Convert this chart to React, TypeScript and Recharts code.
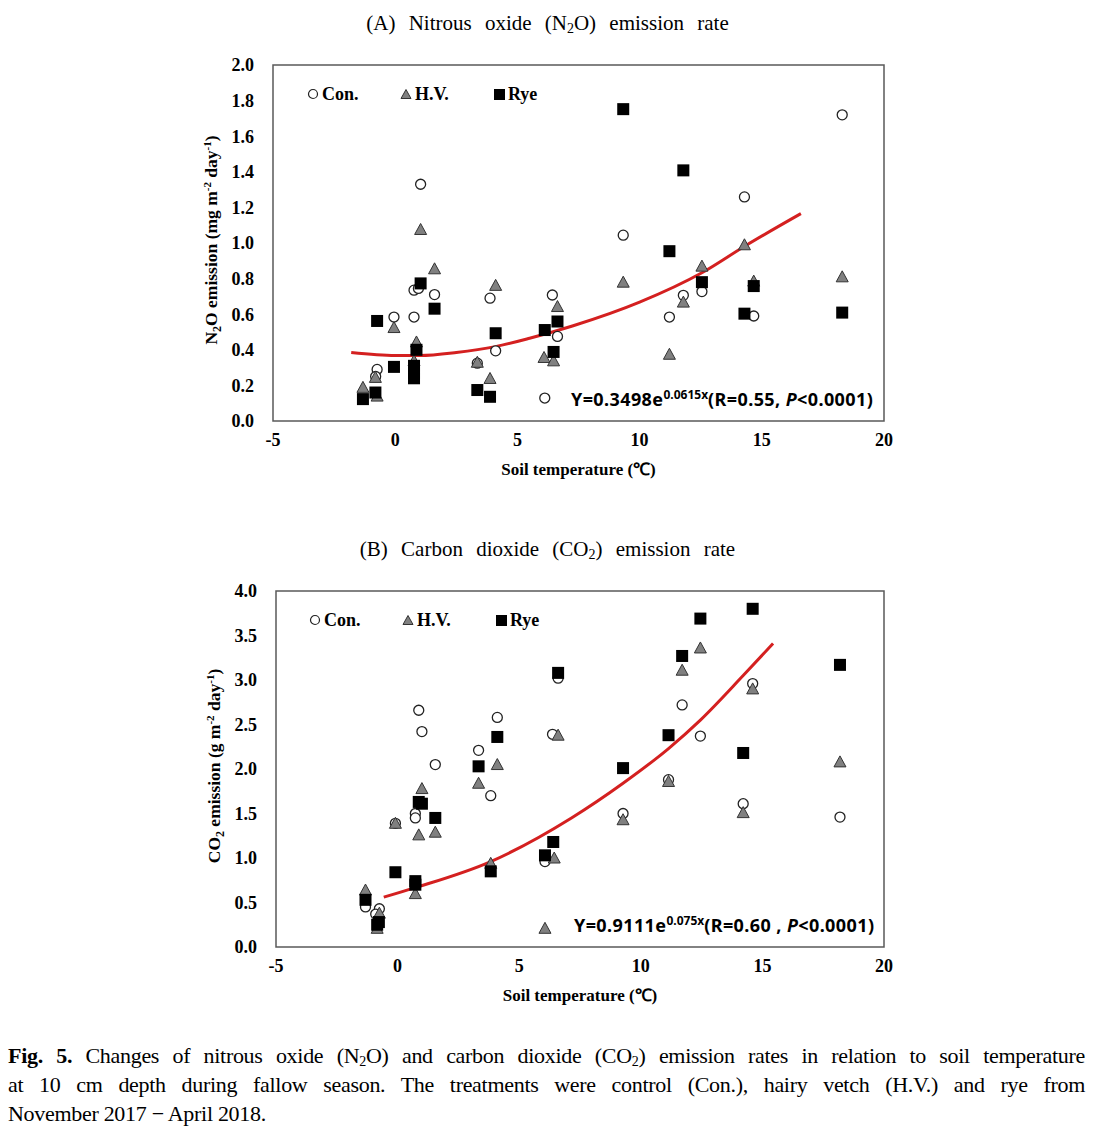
import React from 'react';
import { ComposedChart, Scatter, Line, XAxis, YAxis, ReferenceArea, Label, Legend } from 'recharts';

// ---------- data ----------
const xTicks = [-5, 0, 5, 10, 15, 20];
const n2oTicks = [0, 0.2, 0.4, 0.6, 0.8, 1.0, 1.2, 1.4, 1.6, 1.8, 2.0];
const co2Ticks = [0, 0.5, 1.0, 1.5, 2.0, 2.5, 3.0, 3.5, 4.0];

const n2oCon = [
  { x: 1.04, y: 1.33 }, { x: 0.77, y: 0.735 }, { x: 0.95, y: 0.745 }, { x: 1.61, y: 0.71 },
  { x: -0.05, y: 0.584 }, { x: 0.77, y: 0.584 }, { x: -0.74, y: 0.29 }, { x: -0.8, y: 0.25 },
  { x: 3.88, y: 0.69 }, { x: 3.36, y: 0.325 }, { x: 4.11, y: 0.394 }, { x: 6.43, y: 0.708 },
  { x: 6.64, y: 0.475 }, { x: 6.12, y: 0.129 }, { x: 9.33, y: 1.044 }, { x: 14.29, y: 1.259 },
  { x: 18.29, y: 1.72 }, { x: 11.22, y: 0.584 }, { x: 11.79, y: 0.706 }, { x: 12.55, y: 0.727 },
  { x: 14.67, y: 0.59 },
];
const n2oHV = [
  { x: 1.04, y: 1.076 }, { x: 1.61, y: 0.855 }, { x: -0.05, y: 0.525 }, { x: 0.87, y: 0.444 },
  { x: 0.77, y: 0.338 }, { x: -1.32, y: 0.189 }, { x: -0.81, y: 0.245 }, { x: -0.74, y: 0.14 },
  { x: 4.11, y: 0.762 }, { x: 3.36, y: 0.33 }, { x: 3.88, y: 0.239 }, { x: 6.64, y: 0.643 },
  { x: 6.09, y: 0.357 }, { x: 6.48, y: 0.338 }, { x: 9.33, y: 0.78 }, { x: 11.22, y: 0.375 },
  { x: 11.79, y: 0.668 }, { x: 12.55, y: 0.87 }, { x: 14.29, y: 0.99 }, { x: 14.67, y: 0.786 },
  { x: 18.29, y: 0.81 },
];
const n2oRye = [
  { x: -0.74, y: 0.562 }, { x: -0.05, y: 0.304 }, { x: 1.04, y: 0.773 }, { x: 1.61, y: 0.631 },
  { x: 0.87, y: 0.4 }, { x: 0.77, y: 0.31 }, { x: 0.77, y: 0.27 }, { x: 0.77, y: 0.24 },
  { x: -1.32, y: 0.123 }, { x: -0.81, y: 0.16 }, { x: 3.36, y: 0.174 }, { x: 3.88, y: 0.136 },
  { x: 4.11, y: 0.493 }, { x: 6.12, y: 0.511 }, { x: 6.64, y: 0.559 }, { x: 6.48, y: 0.388 },
  { x: 9.33, y: 1.752 }, { x: 11.79, y: 1.408 }, { x: 11.22, y: 0.954 }, { x: 12.55, y: 0.78 },
  { x: 14.29, y: 0.603 }, { x: 14.67, y: 0.758 }, { x: 18.29, y: 0.609 },
];
const n2oTrend = [
  { x: -1.8, y: 0.385 }, { x: 0, y: 0.368 }, { x: 1, y: 0.368 }, { x: 2.5, y: 0.385 },
  { x: 4.1, y: 0.418 }, { x: 5.5, y: 0.465 }, { x: 7.25, y: 0.534 }, { x: 10, y: 0.668 },
  { x: 12.55, y: 0.833 }, { x: 14.3, y: 0.982 }, { x: 16.6, y: 1.165 },
];

const co2Con = [
  { x: 0.87, y: 2.66 }, { x: 1.0, y: 2.42 }, { x: 1.55, y: 2.05 }, { x: 0.73, y: 1.5 },
  { x: 0.73, y: 1.45 }, { x: -0.09, y: 1.39 }, { x: 3.33, y: 2.21 }, { x: 4.1, y: 2.58 },
  { x: 3.83, y: 1.7 }, { x: 6.37, y: 2.39 }, { x: 6.6, y: 3.02 }, { x: 6.06, y: 0.96 },
  { x: -1.32, y: 0.45 }, { x: -0.75, y: 0.43 }, { x: -0.9, y: 0.37 }, { x: 9.27, y: 1.5 },
  { x: 11.14, y: 1.88 }, { x: 11.7, y: 2.72 }, { x: 12.45, y: 2.37 }, { x: 14.21, y: 1.61 },
  { x: 14.6, y: 2.96 }, { x: 18.19, y: 1.46 },
];
const co2HV = [
  { x: 1.0, y: 1.78 }, { x: 0.87, y: 1.26 }, { x: 1.55, y: 1.29 }, { x: -0.09, y: 1.39 },
  { x: 0.73, y: 0.6 }, { x: 3.33, y: 1.84 }, { x: 4.1, y: 2.05 }, { x: 3.83, y: 0.94 },
  { x: 6.6, y: 2.38 }, { x: 6.44, y: 1.0 }, { x: 6.06, y: 0.21 }, { x: -1.32, y: 0.64 },
  { x: -0.75, y: 0.38 }, { x: -0.84, y: 0.21 }, { x: 9.27, y: 1.43 }, { x: 11.14, y: 1.86 },
  { x: 11.7, y: 3.11 }, { x: 12.45, y: 3.36 }, { x: 14.21, y: 1.51 }, { x: 14.6, y: 2.9 },
  { x: 18.19, y: 2.08 },
];
const co2Rye = [
  { x: 0.87, y: 1.63 }, { x: 1.0, y: 1.61 }, { x: 1.55, y: 1.45 }, { x: -0.09, y: 0.84 },
  { x: 0.73, y: 0.74 }, { x: 0.73, y: 0.7 }, { x: 3.33, y: 2.03 }, { x: 4.1, y: 2.36 },
  { x: 3.83, y: 0.85 }, { x: 6.6, y: 3.08 }, { x: 6.4, y: 1.18 }, { x: 6.06, y: 1.03 },
  { x: -1.32, y: 0.53 }, { x: -0.77, y: 0.28 }, { x: -0.84, y: 0.25 }, { x: 9.27, y: 2.01 },
  { x: 11.14, y: 2.38 }, { x: 11.7, y: 3.27 }, { x: 12.45, y: 3.69 }, { x: 14.21, y: 2.18 },
  { x: 14.6, y: 3.8 }, { x: 18.19, y: 3.17 },
];
const co2Trend = [
  { x: -0.57, y: 0.56 }, { x: 0.73, y: 0.667 }, { x: 3.83, y: 0.96 }, { x: 7.15, y: 1.45 },
  { x: 9.27, y: 1.84 }, { x: 11.14, y: 2.23 }, { x: 12.45, y: 2.55 }, { x: 14.21, y: 3.05 },
  { x: 15.44, y: 3.41 },
];

const seriesNames = ['Con.', 'H.V.', 'Rye'];

// ---------- styles ----------
const SERIF = '"Liberation Serif", "Times New Roman", serif';
const SANS = '"Noto Sans", "DejaVu Sans", sans-serif';
const tickStyle = { fontFamily: SERIF, fontWeight: 700, fontSize: 18, fill: '#000' };

const CircleShape = (p: any) => (
  <circle cx={p.cx} cy={p.cy} r={5} fill="#fff" stroke="#222" strokeWidth={1.3} />
);
const TriShape = (p: any) => (
  <polygon
    points={`${p.cx},${p.cy - 6} ${p.cx + 6},${p.cy + 5} ${p.cx - 6},${p.cy + 5}`}
    fill="#808080"
    stroke="#333"
    strokeWidth={1}
  />
);
const SquareShape = (p: any) => <rect x={p.cx - 6} y={p.cy - 6} width={12} height={12} fill="#000" />;

const legendIcon = (name: string) => {
  if (name === 'Con.')
    return (
      <svg width={12} height={12}>
        <circle cx={6} cy={6} r={4.5} fill="#fff" stroke="#222" strokeWidth={1.2} />
      </svg>
    );
  if (name === 'H.V.')
    return (
      <svg width={12} height={12}>
        <polygon points="6,1.5 11,10.5 1,10.5" fill="#808080" stroke="#333" strokeWidth={1} />
      </svg>
    );
  return (
    <svg width={12} height={12}>
      <rect x={1} y={1} width={11} height={11} fill="#000" />
    </svg>
  );
};

const LegendContent = () => (
  <div style={{ position: 'relative', width: 260, height: 20 }}>
    {seriesNames.map((n, i) => (
      <div
        key={n}
        style={{
          position: 'absolute',
          left: [0, 93, 186][i],
          top: 0,
          height: 20,
          display: 'flex',
          alignItems: 'center',
          fontFamily: SERIF,
          fontWeight: 700,
          fontSize: 18,
          color: '#000',
        }}
      >
        {legendIcon(n)}
        <span style={{ marginLeft: 3 }}>{n}</span>
      </div>
    ))}
  </div>
);

const XTitle = (props: any) => {
  const vb = props.viewBox || {};
  return (
    <text
      x={vb.x + vb.width / 2}
      y={vb.y + 54}
      textAnchor="middle"
      style={{ fontFamily: SERIF, fontWeight: 700, fontSize: 17, fill: '#000' }}
    >
      Soil temperature (℃)
    </text>
  );
};

const makeYTitle = (kind: 'n2o' | 'co2') => (props: any) => {
  const vb = props.viewBox || {};
  const cx = vb.x + vb.width - 62;
  const cy = vb.y + vb.height / 2 - 3;
  const st = { fontFamily: SERIF, fontWeight: 700, fontSize: 17.5, fill: '#000' };
  return (
    <text x={cx} y={cy} dy={6} textAnchor="middle" transform={`rotate(-90 ${cx} ${cy})`} style={st}>
      {kind === 'n2o' ? (
        <>
          <tspan>N</tspan>
          <tspan dy={4} fontSize={12}>2</tspan>
          <tspan dy={-4}>O emission (mg m</tspan>
          <tspan dy={-6} fontSize={11}>-2</tspan>
          <tspan dy={6}> day</tspan>
          <tspan dy={-6} fontSize={11}>-1</tspan>
          <tspan dy={6}>)</tspan>
        </>
      ) : (
        <>
          <tspan>CO</tspan>
          <tspan dy={4} fontSize={12}>2</tspan>
          <tspan dy={-4}> emission (g m</tspan>
          <tspan dy={-6} fontSize={11}>-2</tspan>
          <tspan dy={6}> day</tspan>
          <tspan dy={-6} fontSize={11}>-1</tspan>
          <tspan dy={6}>)</tspan>
        </>
      )}
    </text>
  );
};

type PanelProps = {
  top: number;
  left: number;
  yMax: number;
  yTicks: number[];
  con: any[];
  hv: any[];
  rye: any[];
  trend: any[];
  kind: 'n2o' | 'co2';
  legendLeft: number;
};

const Panel = ({ top, left, yMax, yTicks, con, hv, rye, trend, kind, legendLeft }: PanelProps) => (
  <div style={{ position: 'absolute', left: 0, top, width: 1095, height: 500 }}>
    <ComposedChart width={1095} height={500} margin={{ top: 65, right: 211, bottom: 49, left: left - 60 }}>
      <XAxis
        type="number"
        dataKey="x"
        domain={[-5, 20]}
        ticks={xTicks}
        allowDataOverflow
        axisLine={false}
        tickLine={false}
        tickSize={6}
        tickMargin={6}
        height={30}
        tick={tickStyle}
      >
        <Label content={XTitle} />
      </XAxis>
      <YAxis
        type="number"
        dataKey="y"
        domain={[0, yMax]}
        ticks={yTicks}
        allowDataOverflow
        axisLine={false}
        tickLine={false}
        tickSize={6}
        tickMargin={13}
        width={60}
        tick={tickStyle}
        tickFormatter={(v: number) => v.toFixed(1)}
      >
        <Label content={makeYTitle(kind)} />
      </YAxis>
      <ReferenceArea x1={-5} x2={20} y1={0} y2={yMax} fill="none" stroke="#5a5a5a" strokeWidth={1.5} />
      <Line
        data={trend}
        dataKey="y"
        type="monotone"
        stroke="#d42020"
        strokeWidth={3}
        dot={false}
        legendType="none"
        isAnimationActive={false}
      />
      <Scatter name="Con." data={con} shape={CircleShape} isAnimationActive={false} />
      <Scatter name="H.V." data={hv} shape={TriShape} isAnimationActive={false} />
      <Scatter name="Rye" data={rye} shape={SquareShape} isAnimationActive={false} />
      <Legend
        layout="horizontal"
        verticalAlign="middle"
        content={LegendContent}
        wrapperStyle={{ position: 'absolute', left: legendLeft, top: 84, width: 260, height: 20 }}
      />
    </ComposedChart>
  </div>
);

const titleStyle: React.CSSProperties = {
  position: 'absolute',
  left: 0,
  width: 1095,
  textAlign: 'center',
  fontFamily: SERIF,
  fontSize: 21,
  lineHeight: '21px',
  wordSpacing: 8,
  color: '#000',
  whiteSpace: 'nowrap',
};

const eqStyle: React.CSSProperties = {
  position: 'absolute',
  fontFamily: SANS,
  fontWeight: 700,
  fontSize: 18,
  lineHeight: '18px',
  letterSpacing: 0.4,
  color: '#000',
  whiteSpace: 'nowrap',
};

const capLine: React.CSSProperties = {
  width: 1077,
  textAlign: 'justify',
  textAlignLast: 'justify' as any,
  height: 29,
};

export default function App() {
  return (
    <div style={{ position: 'absolute', left: 0, top: 0, width: 1095, height: 1138, background: '#fff' }}>
      <div style={{ ...titleStyle, top: 13 }}>
        (A) Nitrous oxide (N<sub style={{ fontSize: 14, verticalAlign: '-3px' }}>2</sub>O) emission rate
      </div>
      <Panel
        top={0}
        left={273}
        yMax={2}
        yTicks={n2oTicks}
        con={n2oCon}
        hv={n2oHV}
        rye={n2oRye}
        trend={n2oTrend}
        kind="n2o"
        legendLeft={307}
      />
      <div style={{ ...eqStyle, left: 571, top: 386 }}>
        Y=0.3498e<sup style={{ fontSize: 12, verticalAlign: '7px', letterSpacing: 0 }}>0.0615x</sup>(R=0.55, <i>P</i>&lt;0.0001)
      </div>

      <div style={{ ...titleStyle, top: 539 }}>
        (B) Carbon dioxide (CO<sub style={{ fontSize: 14, verticalAlign: '-3px' }}>2</sub>) emission rate
      </div>
      <Panel
        top={526}
        left={276}
        yMax={4}
        yTicks={co2Ticks}
        con={co2Con}
        hv={co2HV}
        rye={co2Rye}
        trend={co2Trend}
        kind="co2"
        legendLeft={309}
      />
      <div style={{ ...eqStyle, left: 574, top: 912 }}>
        Y=0.9111e<sup style={{ fontSize: 12, verticalAlign: '7px', letterSpacing: 0 }}>0.075x</sup>(R=0.60 , <i>P</i>&lt;0.0001)
      </div>

      <div
        style={{
          position: 'absolute',
          left: 8,
          top: 1041,
          width: 1077,
          fontFamily: SERIF,
          fontSize: 22,
          lineHeight: '29px',
          letterSpacing: -0.3,
          color: '#000',
        }}
      >
        <div style={capLine}>
          <b>Fig. 5.</b> Changes of nitrous oxide (N<sub style={{ fontSize: 14, verticalAlign: '-3px', lineHeight: 0 }}>2</sub>O) and carbon
          dioxide (CO<sub style={{ fontSize: 14, verticalAlign: '-3px', lineHeight: 0 }}>2</sub>) emission rates in relation to soil temperature
        </div>
        <div style={capLine}>
          at 10 cm depth during fallow season. The treatments were control (Con.), hairy vetch (H.V.) and rye from
        </div>
        <div style={{ height: 29 }}>November 2017 − April 2018.</div>
      </div>
    </div>
  );
}
